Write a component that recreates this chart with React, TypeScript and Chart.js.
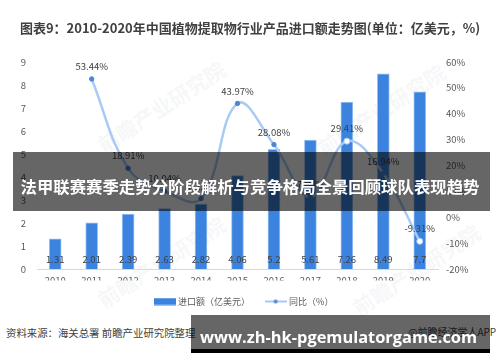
import React, { useEffect, useRef } from "react";
import { Chart, registerables } from "chart.js";

Chart.register(...registerables);

const years = ["2010", "2011", "2012", "2013", "2014", "2015", "2016", "2017", "2018", "2019", "2020"];
const importValues = [1.31, 2.01, 2.39, 2.63, 2.82, 4.06, 5.2, 5.61, 7.26, 8.49, 7.7];
const growthRates: (number | null)[] = [null, 53.44, 18.91, 10.04, 7.22, 43.97, 28.08, 7.88, 29.41, 16.94, -9.31];
const hollowPoints = [false, false, false, false, false, false, false, false, true, false, true];

const leftMin = 0;
const leftMax = 9;
const leftStep = 1;
const rightMin = -20;
const rightMax = 60;
const rightStep = 10;

const importLabel = "进口额（亿美元）";
const growthLabel = "同比（%）";
const titleText = "图表9：2010-2020年中国植物提取物行业产品进口额走势图(单位：亿美元，%)";
const bannerText = "法甲联赛赛季走势分阶段解析与竞争格局全景回顾球队表现趋势";
const sourceText = "资料来源：海关总署 前瞻产业研究院整理";
const linkText = "www.zh-hk-pgemulatorgame.com";
const appText = "@前瞻经济学人APP";
const watermarkText = "前瞻产业研究院";

const FONT = '"Noto Sans CJK SC", "Noto Sans", sans-serif';
const BAR_COLOR = "#3b83df";
const BAR_EDGE = "#9cc3f2";
const LINE_COLOR = "#a8cbf6";
const POINT_COLOR = "#4a86d8";
const TEXT_COLOR = "#404040";
const TICK_COLOR = "#595959";

function makeSwatch(kind: "bar" | "line"): HTMLCanvasElement {
  const c = document.createElement("canvas");
  c.width = 22;
  c.height = 8;
  const ctx = c.getContext("2d")!;
  if (kind === "bar") {
    ctx.fillStyle = BAR_COLOR;
    ctx.fillRect(0, 0.5, 22, 7);
  } else {
    ctx.strokeStyle = LINE_COLOR;
    ctx.lineWidth = 2;
    ctx.beginPath();
    ctx.moveTo(0, 4);
    ctx.lineTo(22, 4);
    ctx.stroke();
    ctx.fillStyle = POINT_COLOR;
    ctx.beginPath();
    ctx.arc(11, 4, 2, 0, Math.PI * 2);
    ctx.fill();
  }
  return c;
}

const valueLabelPlugin = {
  id: "valueLabels",
  afterDatasetsDraw(chart: any) {
    const ctx = chart.ctx;
    ctx.save();
    ctx.font = `9.5px ${FONT}`;
    ctx.fillStyle = TEXT_COLOR;
    ctx.textAlign = "center";
    ctx.textBaseline = "middle";
    const barMeta = chart.getDatasetMeta(0);
    barMeta.data.forEach((el: any, i: number) => {
      ctx.fillText(String(importValues[i]), el.x, el.base - 10);
    });
    const lineMeta = chart.getDatasetMeta(1);
    lineMeta.data.forEach((el: any, i: number) => {
      const v = growthRates[i];
      if (v === null) return;
      ctx.fillText(v.toFixed(2) + "%", el.x, el.y - 12.5);
    });
    ctx.restore();
  },
};

function ChartCanvas() {
  const ref = useRef<HTMLCanvasElement>(null);
  useEffect(() => {
    if (!ref.current) return;
    const swatches = [makeSwatch("bar"), makeSwatch("line")];
    const chart = new Chart(ref.current, {
      type: "bar",
      data: {
        labels: years,
        datasets: [
          {
            type: "bar",
            label: importLabel,
            data: importValues,
            backgroundColor: BAR_COLOR,
            borderColor: BAR_EDGE,
            borderWidth: 1,
            barThickness: 12,
            yAxisID: "y",
            order: 1,
          },
          {
            type: "line",
            label: growthLabel,
            data: growthRates,
            borderColor: LINE_COLOR,
            borderWidth: 2.5,
            tension: 0.4,
            pointRadius: hollowPoints.map((h) => (h ? 3 : 2.2)),
            pointBackgroundColor: hollowPoints.map((h) => (h ? "#ffffff" : POINT_COLOR)),
            pointBorderColor: hollowPoints.map((h) => (h ? LINE_COLOR : POINT_COLOR)),
            pointBorderWidth: 1,
            yAxisID: "y1",
            order: 0,
          } as any,
        ],
      },
      options: {
        responsive: false,
        animation: false,
        devicePixelRatio: 1,
        layout: { padding: { left: 0, right: 11, top: 62, bottom: 0 } },
        font: { family: FONT },
        plugins: {
          tooltip: { enabled: false },
          legend: {
            position: "bottom",
            labels: {
              usePointStyle: true,
              pointStyleWidth: 18,
              padding: 16.5,
              font: { size: 9, family: FONT },
              color: TICK_COLOR,
              generateLabels: (c: any) =>
                c.data.datasets.map((ds: any, i: number) => ({
                  text: ds.label,
                  pointStyle: swatches[i],
                  datasetIndex: i,
                  hidden: false,
                  fillStyle: "transparent",
                  strokeStyle: "transparent",
                  lineWidth: 0,
                  fontColor: TICK_COLOR,
                })),
            },
          },
        },
        scales: {
          x: {
            offset: true,
            grid: { display: false, drawTicks: false },
            border: { display: true, color: "#d9d9d9", width: 1 },
            ticks: { color: TICK_COLOR, font: { size: 9.5, family: FONT }, padding: 6, maxRotation: 0 },
            afterFit: (s: any) => {
              s.height = 11.5;
            },
          },
          y: {
            position: "left",
            min: leftMin,
            max: leftMax,
            grid: { display: false, drawTicks: false },
            border: { display: false },
            ticks: { stepSize: leftStep, color: TICK_COLOR, font: { size: 9.5, family: FONT }, padding: 11 },
            afterFit: (s: any) => {
              s.width = 37;
            },
          },
          y1: {
            position: "right",
            min: rightMin,
            max: rightMax,
            grid: { display: false, drawTicks: false },
            border: { display: false },
            ticks: {
              stepSize: rightStep,
              color: TICK_COLOR,
              font: { size: 9.5, family: FONT },
              padding: 8,
              callback: (v: any) => v + "%",
            },
            afterFit: (s: any) => {
              s.width = 51;
            },
          },
        },
      } as any,
      plugins: [valueLabelPlugin],
    });
    return () => chart.destroy();
  }, []);
  return (
    <canvas
      ref={ref}
      width={500}
      height={316}
      style={{ position: "absolute", left: 0, top: 0, width: 500, height: 316 }}
    />
  );
}

const watermarks = [
  { x: 94, y: 138, r: -33 },
  { x: 314, y: 141, r: -33 },
  { x: 94, y: 293, r: -33 },
  { x: 349, y: 301, r: -33 },
];

export default function App() {
  return (
    <div
      style={{
        position: "absolute",
        left: 0,
        top: 0,
        width: 500,
        height: 362,
        background: "#ffffff",
        overflow: "hidden",
        fontFamily: FONT,
      }}
    >
      {watermarks.map((w, i) => (
        <div
          key={i}
          style={{
            position: "absolute",
            left: w.x,
            top: w.y,
            fontSize: 21,
            lineHeight: "21px",
            fontWeight: 700,
            color: "rgba(200,208,218,0.18)",
            transform: `rotate(${w.r}deg)`,
            transformOrigin: "left top",
            whiteSpace: "nowrap",
          }}
        >
          {watermarkText}
        </div>
      ))}
      <ChartCanvas />
      <div
        style={{
          position: "absolute",
          left: 0,
          top: 18,
          width: 500,
          lineHeight: "20px",
          fontSize: 13,
          fontWeight: 700,
          color: TEXT_COLOR,
          textAlign: "center",
          whiteSpace: "nowrap",
        }}
      >
        {titleText}
      </div>
      <div
        style={{
          position: "absolute",
          left: 6,
          top: 325,
          lineHeight: "16px",
          fontSize: 10.4,
          color: TEXT_COLOR,
          whiteSpace: "nowrap",
        }}
      >
        {sourceText}
      </div>
      <div
        style={{
          position: "absolute",
          left: 408,
          top: 324,
          lineHeight: "16px",
          fontSize: 10,
          color: TEXT_COLOR,
          whiteSpace: "nowrap",
        }}
      >
        {appText}
      </div>
      <div
        style={{
          position: "absolute",
          left: 12.5,
          top: 152,
          width: 477,
          height: 59,
          background: "rgba(0,0,0,0.6)",
        }}
      />
      <div
        style={{
          position: "absolute",
          left: 0,
          top: 174,
          width: 500,
          lineHeight: "24px",
          fontSize: 16.4,
          fontWeight: 700,
          color: "#ffffff",
          textAlign: "center",
          whiteSpace: "nowrap",
        }}
      >
        {bannerText}
      </div>
      <div
        style={{
          position: "absolute",
          left: 191,
          top: 315,
          width: 299,
          height: 34,
          background: "rgba(0,0,0,0.6)",
        }}
      />
      <div
        style={{
          position: "absolute",
          left: 191,
          top: 349,
          width: 299,
          height: 4,
          background: "#000000",
        }}
      />
      <div
        style={{
          position: "absolute",
          left: 200,
          top: 329,
          lineHeight: "16.4px",
          fontSize: 16.4,
          fontWeight: 700,
          fontFamily: '"Open Sans", sans-serif',
          color: "#ffffff",
          whiteSpace: "nowrap",
        }}
      >
        {linkText}
      </div>
    </div>
  );
}
